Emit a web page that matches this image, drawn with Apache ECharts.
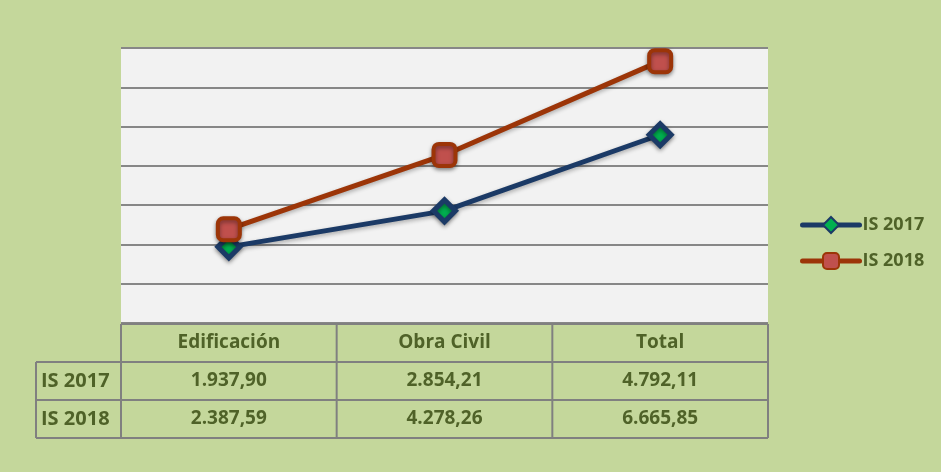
<!DOCTYPE html>
<html><head><meta charset="utf-8">
<script src="https://cdn.jsdelivr.net/npm/echarts@6/dist/echarts.min.js"></script>
<style>html,body{margin:0;padding:0;background:#c4d79b}#c{width:941px;height:472px}</style>
</head><body><div id="c"></div>
<script>
var categories = ['Edificación', 'Obra Civil', 'Total'];
var seriesNames = ['IS 2017', 'IS 2018'];
var is2017 = [1937.90, 2854.21, 4792.11];
var is2018 = [2387.59, 4278.26, 6665.85];
var yMin = 0, yMax = 7000, yInterval = 1000;

function fmt(v) {
  var parts = v.toFixed(2).split('.');
  return parts[0].replace(/\B(?=(\d{3})+(?!\d))/g, '.') + ',' + parts[1];
}

var G = {left: 121, top: 48, width: 647, height: 275};
var rowH = 38;
var txt = '#4f6228';
var lineC = '#808080';
var font = '"Open Sans", Lato, sans-serif';

var chart = echarts.init(document.getElementById('c'));
var gr = [];
var L = G.left, R = G.left + G.width, B = G.top + G.height;
function hl(x1, x2, y) { gr.push({type: 'line', shape: {x1: x1, y1: y, x2: x2, y2: y}, style: {stroke: lineC, lineWidth: 2}, z: 10}); }
function vl(x, y1, y2) { gr.push({type: 'line', shape: {x1: x, y1: y1, x2: x, y2: y2}, style: {stroke: lineC, lineWidth: 2}, z: 10}); }
hl(L, R, B + 1);
hl(36, R, B + 1 + rowH);
hl(36, R, B + 1 + rowH * 2);
hl(36, R, B + 1 + rowH * 3);
vl(36, B + 1 + rowH, B + 1 + rowH * 3);
for (var i = 0; i <= categories.length; i++) {
  vl(L + G.width * i / categories.length, B + 1, B + 1 + rowH * 3);
}
seriesNames.forEach(function (n, k) {
  gr.push({type: 'text', x: 41, y: B + 1 + rowH * (k + 1) + rowH / 2,
    style: {text: n, fill: txt, font: 'bold 20px ' + font, verticalAlign: 'middle', align: 'left'}, z: 11});
});

function tableAxis(data, margin) {
  return {
    type: 'category', data: data, gridIndex: 0, position: 'bottom',
    axisLine: {show: false}, axisTick: {show: false},
    axisLabel: {margin: margin, verticalAlign: 'middle', color: txt, fontSize: 19, fontWeight: 'bold', fontFamily: font, interval: 0},
    splitLine: {show: false}
  };
}

chart.setOption({
  backgroundColor: '#c4d79b',
  animation: false,
  grid: {left: G.left, top: G.top, width: G.width, height: G.height, backgroundColor: '#f2f2f2', show: true, borderWidth: 0},
  legend: {
    orient: 'vertical', left: 795, top: 211, itemWidth: 57, itemHeight: 20, itemGap: 18,
    data: seriesNames,
    lineStyle: {width: 5, cap: 'round'},
    textStyle: {color: txt, fontSize: 18, fontWeight: 'bold', fontFamily: font, padding: [0, 0, 0, -2]}
  },
  xAxis: [
    Object.assign(tableAxis(categories, 20), {boundaryGap: true}),
    tableAxis(is2017.map(fmt), 58),
    tableAxis(is2018.map(fmt), 96)
  ],
  yAxis: {
    type: 'value', min: yMin, max: yMax, interval: yInterval,
    axisLabel: {show: false}, axisLine: {show: false}, axisTick: {show: false},
    splitLine: {lineStyle: {color: '#878787', width: 2}}
  },
  graphic: gr,
  series: [
    {
      name: seriesNames[0], type: 'line', data: is2017, xAxisIndex: 0,
      symbol: 'diamond', symbolSize: 22,
      lineStyle: {color: '#1b3a66', width: 5, shadowColor: 'rgba(0,0,0,0.3)', shadowBlur: 4, shadowOffsetY: 2},
      itemStyle: {color: '#00b050', borderColor: '#1b3a66', borderWidth: 5, shadowColor: 'rgba(0,0,0,0.4)', shadowBlur: 4, shadowOffsetY: 2},
      z: 3
    },
    {
      name: seriesNames[1], type: 'line', data: is2018, xAxisIndex: 0,
      symbol: 'roundRect', symbolSize: 22,
      lineStyle: {color: '#9c3508', width: 5, shadowColor: 'rgba(0,0,0,0.3)', shadowBlur: 4, shadowOffsetY: 2},
      itemStyle: {color: '#c0504d', borderColor: '#9c3508', borderWidth: 4, shadowColor: 'rgba(0,0,0,0.4)', shadowBlur: 4, shadowOffsetY: 2},
      z: 4
    }
  ]
});
</script></body></html>
